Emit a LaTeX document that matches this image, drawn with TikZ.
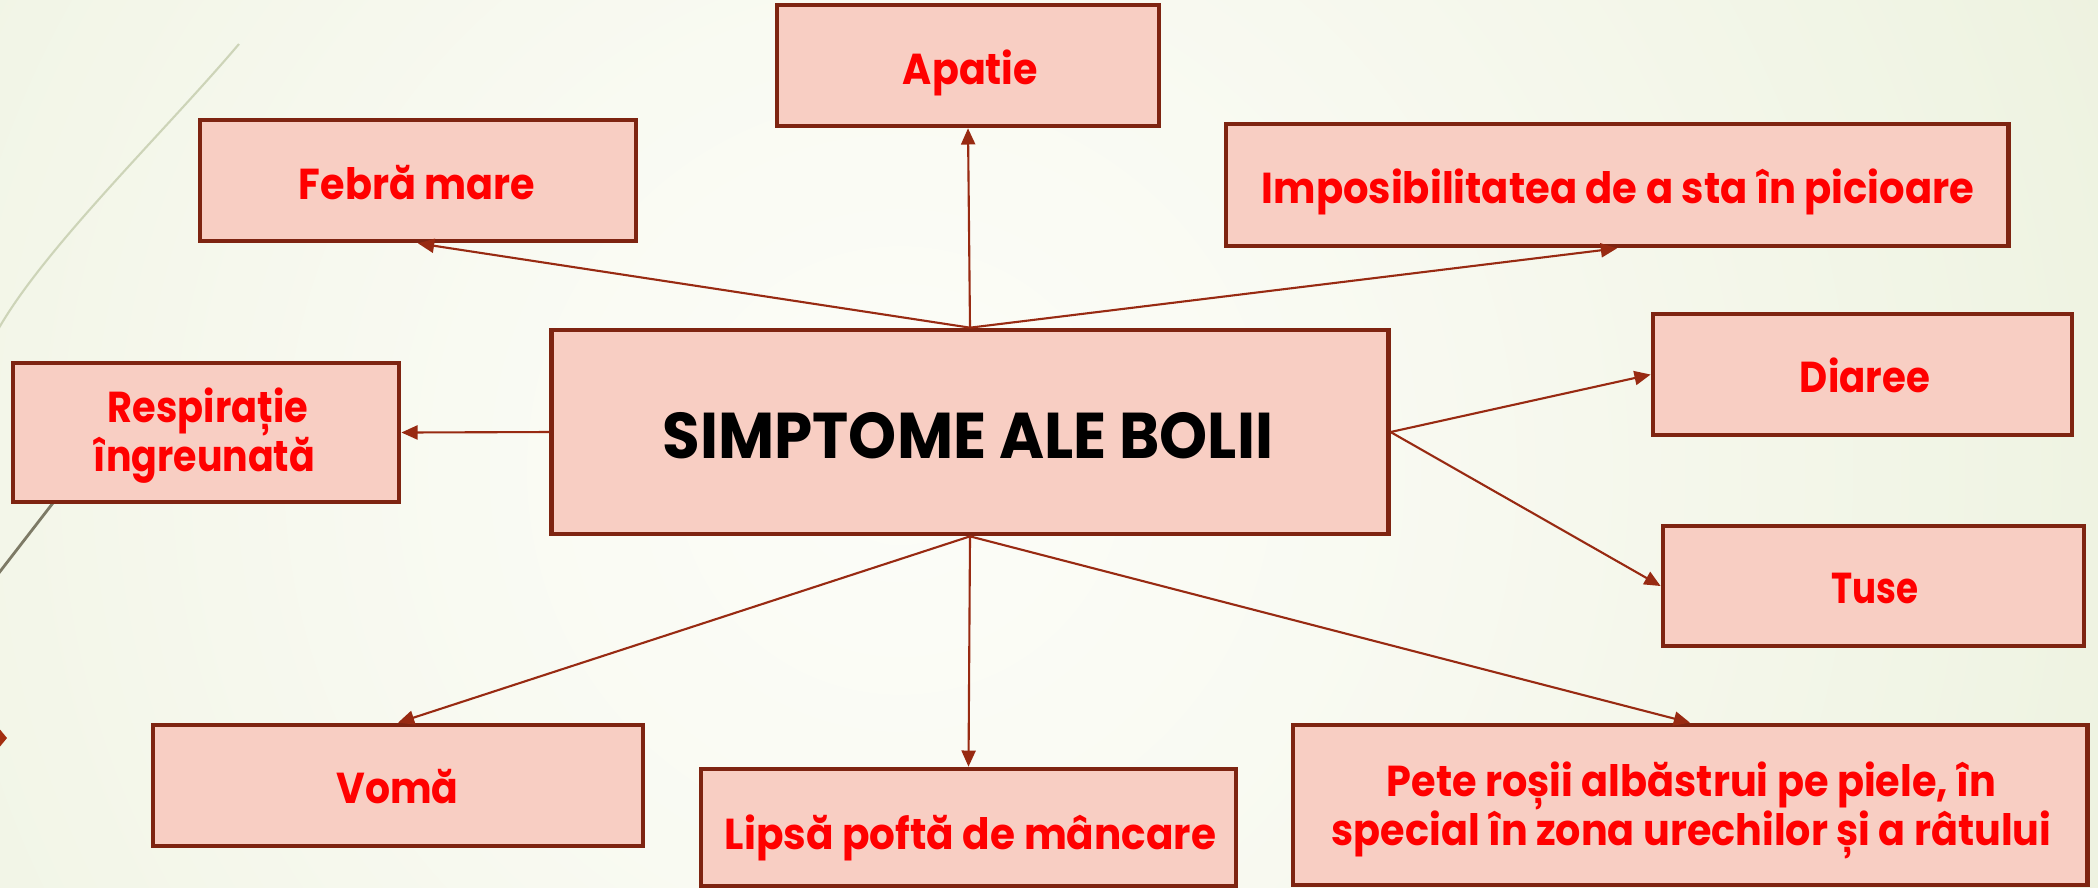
\documentclass[tikz,border=0pt]{standalone}
\usepackage{fontspec}
\usepackage{graphicx}
\setmainfont{Poppins}
\usetikzlibrary{arrows.meta}
\definecolor{boxfill}{HTML}{F8CEC3}
\definecolor{boxline}{HTML}{7E2411}
\definecolor{arr}{HTML}{982A12}
\definecolor{txtred}{HTML}{FF0000}
\definecolor{bgA}{HTML}{FCFDF8}
\definecolor{bgB}{HTML}{F9FAF2}
\definecolor{bgC}{HTML}{F0F4E4}
\definecolor{bgD}{HTML}{E7EDD6}
\definecolor{bgE}{HTML}{DEE7C9}
\definecolor{bgF}{HTML}{D8E3BE}
\definecolor{arcL}{HTML}{CDD4B8}
\definecolor{arcD}{HTML}{7D7A66}
\definecolor{diamred}{HTML}{A32E10}
\pgfdeclareradialshading{bgshade}{\pgfpoint{0bp}{0bp}}{color(0bp)=(bgA); color(8bp)=(bgB); color(20bp)=(bgC); color(30bp)=(bgD); color(41bp)=(bgE); color(50bp)=(bgF)}
\newcommand\fw[2]{\resizebox{#1}{\height}{#2}}
\tikzset{
  box/.style={draw=boxline, fill=boxfill, line width=1.3pt, inner sep=0pt, rectangle},
  conn/.style={draw=arr, line width=0.6pt, -{Triangle[length=4.6pt,width=4pt]}},
  lbl/.style={anchor=base, inner sep=0pt, text=txtred, font=\fontsize{12.3pt}{14pt}\selectfont\bfseries},
  title/.style={anchor=base, inner sep=0pt, text=black, font=\fontsize{18.4pt}{21pt}\selectfont\bfseries}
}
\begin{document}
\begin{tikzpicture}[x=0.01cm,y=-0.01cm]
\useasboundingbox (0,0) rectangle (2098,887);
\begin{scope}
\clip (0,0) rectangle (2098,887);
\shade[shading=bgshade] (900,470) circle [radius=14cm];
% decorative theme lines
\draw[draw=arcL, line width=0.6pt] (239,44) .. controls (160,137) and (40,252) .. (-5,335);
\draw[draw=arcD, line width=0.8pt] (90,455) -- (-5,578);
\fill[fill=diamred] (-7,738) -- (0,729.5) -- (7,738) -- (0,746.5) -- cycle;
% boxes
\node[box, minimum width=3.82cm, minimum height=1.21cm] (apatie) at (968,65.5) {};
\node[box, minimum width=4.36cm, minimum height=1.21cm] (febra) at (418,180.5) {};
\node[box, minimum width=7.82cm, minimum height=1.22cm] (impos) at (1617,185) {};
\node[box, minimum width=3.86cm, minimum height=1.39cm] (resp) at (206,432.5) {};
\node[box, minimum width=8.36cm, minimum height=2.04cm] (center) at (970,432) {};
\node[box, minimum width=4.19cm, minimum height=1.21cm] (diaree) at (1862.5,374.5) {};
\node[box, minimum width=4.21cm, minimum height=1.20cm] (tuse) at (1873.5,586) {};
\node[box, minimum width=4.90cm, minimum height=1.21cm] (voma) at (398,785.5) {};
\node[box, minimum width=5.35cm, minimum height=1.17cm] (lipsa) at (968.5,827.5) {};
\node[box, minimum width=7.94cm, minimum height=1.60cm] (pete) at (1690,805) {};
% connectors
\draw[conn] (center.north) -- (apatie.south);
\draw[conn] (center.north) -- (febra.south);
\draw[conn] (center.north) -- (impos.south);
\draw[conn] (center.west) -- (resp.east);
\draw[conn] (center.east) -- (diaree.west);
\draw[conn] (center.east) -- (tuse.west);
\draw[conn] (center.south) -- (voma.north);
\draw[conn] (center.south) -- (lipsa.north);
\draw[conn] (center.south) -- (pete.north);
% texts
\node[title] (tcenter) at (968,458) {\fw{6.10cm}{SIMPTOME ALE BOLII}};
\node[lbl] (tapatie) at (970.5,84) {\fw{1.35cm}{Apatie}};
\node[lbl] (tfebra) at (417,199) {\fw{2.36cm}{Febră mare}};
\node[lbl] (timpos) at (1618,203) {\fw{7.12cm}{Imposibilitatea de a sta în picioare}};
\node[lbl] (tresp1) at (208,422) {\fw{2.00cm}{Respirație}};
\node[lbl] (tresp2) at (204.5,471) {\fw{2.21cm}{îngreunată}};
\node[lbl] (tdiaree) at (1865,392) {\fw{1.30cm}{Diaree}};
\node[lbl] (ttuse) at (1875,603) {\fw{0.87cm}{Tuse}};
\node[lbl] (tvoma) at (397.5,803) {\fw{1.22cm}{Vomă}};
\node[lbl] (tlipsa) at (970.5,849) {\fw{4.91cm}{Lipsă poftă de mâncare}};
\node[lbl] (tpete1) at (1691.5,796) {\fw{6.09cm}{Pete roșii albăstrui pe piele, în}};
\node[lbl] (tpete2) at (1691.5,845) {\fw{7.19cm}{special în zona urechilor și a râtului}};
\end{scope}
\end{tikzpicture}
\end{document}
